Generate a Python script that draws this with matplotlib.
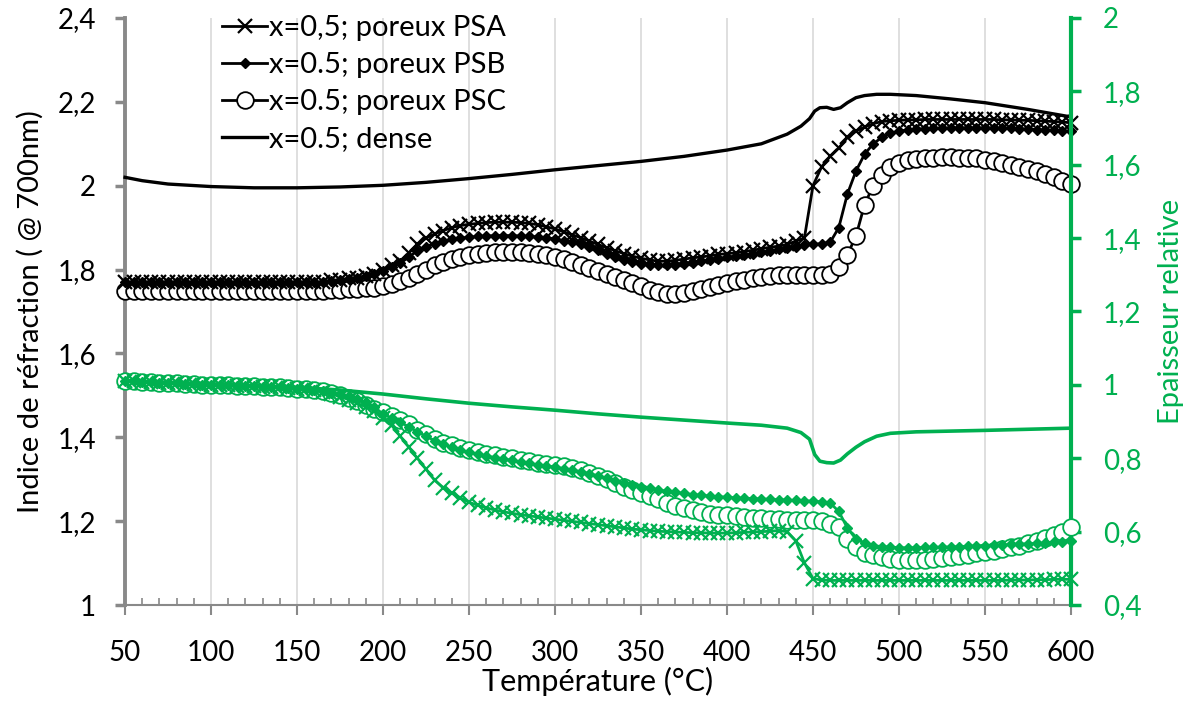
import numpy as np
import matplotlib
matplotlib.use("Agg")
import matplotlib.pyplot as plt
from matplotlib.ticker import MultipleLocator

plt.rcParams['font.family'] = ['Lato', 'DejaVu Sans']

# Temperature grid for the marker series (°C)
T = np.arange(50, 605, 5)

# Refractive index (left axis) - porous films
n_PSA = [1.77, 1.77, 1.77, 1.77, 1.77, 1.77, 1.77, 1.77, 1.77, 1.77,
         1.77, 1.77, 1.77, 1.77, 1.77, 1.77, 1.77, 1.77, 1.77, 1.77,
         1.77, 1.77, 1.77, 1.77, 1.775, 1.775, 1.78, 1.78, 1.785, 1.79,
         1.80, 1.81, 1.82, 1.84, 1.86, 1.875, 1.885, 1.893, 1.90, 1.905,
         1.908, 1.91, 1.912, 1.913, 1.913, 1.913, 1.912, 1.91, 1.907, 1.902,
         1.897, 1.89, 1.883, 1.876, 1.868, 1.86, 1.852, 1.845, 1.838, 1.832,
         1.827, 1.823, 1.82, 1.82, 1.822, 1.825, 1.828, 1.83, 1.833, 1.836,
         1.838, 1.84, 1.843, 1.846, 1.85, 1.853, 1.856, 1.86, 1.868, 1.875,
         2.00, 2.045, 2.07, 2.09, 2.115, 2.13, 2.14, 2.148, 2.153, 2.155,
         2.156, 2.157, 2.157, 2.158, 2.158, 2.158, 2.158, 2.158, 2.158, 2.158,
         2.158, 2.158, 2.157, 2.157, 2.156, 2.156, 2.155, 2.154, 2.153, 2.152, 2.15]
n_PSB = [1.77, 1.77, 1.77, 1.77, 1.77, 1.77, 1.77, 1.77, 1.77, 1.77,
         1.77, 1.77, 1.77, 1.77, 1.77, 1.77, 1.77, 1.77, 1.77, 1.77,
         1.77, 1.77, 1.77, 1.77, 1.772, 1.775, 1.778, 1.78, 1.785, 1.79,
         1.797, 1.805, 1.815, 1.83, 1.845, 1.855, 1.862, 1.868, 1.872, 1.875,
         1.877, 1.879, 1.88, 1.881, 1.881, 1.881, 1.88, 1.879, 1.878, 1.876,
         1.873, 1.869, 1.865, 1.86, 1.853, 1.846, 1.838, 1.83, 1.823, 1.818,
         1.814, 1.811, 1.81, 1.81, 1.811, 1.813, 1.816, 1.82, 1.823, 1.826,
         1.829, 1.832, 1.835, 1.838, 1.841, 1.844, 1.848, 1.852, 1.855, 1.858,
         1.86, 1.862, 1.865, 1.90, 1.98, 2.035, 2.075, 2.10, 2.115, 2.125,
         2.13, 2.133, 2.135, 2.136, 2.137, 2.137, 2.138, 2.138, 2.138, 2.138,
         2.138, 2.138, 2.137, 2.137, 2.136, 2.135, 2.134, 2.133, 2.132, 2.131, 2.13]
n_PSC = [1.75, 1.75, 1.75, 1.75, 1.75, 1.75, 1.75, 1.75, 1.75, 1.75,
         1.75, 1.75, 1.75, 1.75, 1.75, 1.75, 1.75, 1.75, 1.75, 1.75,
         1.75, 1.75, 1.75, 1.75, 1.751, 1.752, 1.753, 1.754, 1.755, 1.757,
         1.76, 1.765, 1.772, 1.78, 1.79, 1.80, 1.81, 1.818, 1.825, 1.83,
         1.835, 1.838, 1.84, 1.842, 1.842, 1.842, 1.841, 1.84, 1.838, 1.835,
         1.83, 1.825, 1.818, 1.81, 1.803, 1.796, 1.79, 1.782, 1.775, 1.768,
         1.76, 1.752, 1.746, 1.742, 1.741, 1.744, 1.749, 1.754, 1.759, 1.764,
         1.768, 1.772, 1.776, 1.779, 1.782, 1.784, 1.786, 1.787, 1.788, 1.788,
         1.788, 1.787, 1.79, 1.805, 1.835, 1.88, 1.955, 2.00, 2.025, 2.045,
         2.055, 2.061, 2.064, 2.066, 2.067, 2.068, 2.068, 2.067, 2.066, 2.065,
         2.062, 2.058, 2.054, 2.05, 2.045, 2.04, 2.035, 2.028, 2.02, 2.012, 2.003]

# Dense film (line only)
T_dense = [50, 60, 75, 100, 125, 150, 175, 200, 225, 250, 275, 300, 325, 350, 375,
           400, 420, 435, 443, 448, 451, 454, 458, 462, 466, 470, 475, 480, 487, 495,
           510, 530, 550, 575, 600]
n_dense = [2.02, 2.012, 2.004, 1.998, 1.995, 1.995, 1.997, 2.001, 2.008, 2.017,
           2.027, 2.038, 2.048, 2.058, 2.07, 2.085, 2.10, 2.123, 2.142, 2.16,
           2.178, 2.186, 2.187, 2.182, 2.186, 2.198, 2.21, 2.215, 2.218, 2.218,
           2.215, 2.207, 2.198, 2.182, 2.164]
e_dense = [1.012, 1.01, 1.007, 1.003, 0.998, 0.993, 0.986, 0.975, 0.962, 0.95,
           0.94, 0.931, 0.921, 0.912, 0.904, 0.896, 0.89, 0.882, 0.87, 0.852,
           0.81, 0.792, 0.788, 0.787, 0.795, 0.812, 0.83, 0.845, 0.86, 0.868,
           0.872, 0.874, 0.876, 0.879, 0.882]

# Relative thickness (right axis)
e_PSA = [1.01, 1.01, 1.008, 1.007, 1.006, 1.005, 1.004, 1.003, 1.002, 1.001,
         1.0, 1.0, 0.999, 0.998, 0.997, 0.996, 0.995, 0.994, 0.993, 0.992,
         0.99, 0.988, 0.985, 0.98, 0.975, 0.968, 0.96, 0.95, 0.94, 0.93,
         0.91, 0.89, 0.86, 0.83, 0.80, 0.77, 0.74, 0.72, 0.705, 0.692,
         0.68, 0.672, 0.665, 0.659, 0.654, 0.65, 0.646, 0.643, 0.64, 0.637,
         0.634, 0.631, 0.628, 0.625, 0.622, 0.619, 0.616, 0.613, 0.61, 0.607,
         0.605, 0.603, 0.601, 0.6, 0.599, 0.598, 0.597, 0.597, 0.596, 0.596,
         0.596, 0.597, 0.598, 0.599, 0.6, 0.601, 0.603, 0.6, 0.575, 0.515,
         0.472, 0.468, 0.467, 0.467, 0.467, 0.467, 0.467, 0.467, 0.467, 0.467,
         0.467, 0.467, 0.467, 0.467, 0.467, 0.467, 0.467, 0.467, 0.467, 0.467,
         0.467, 0.467, 0.467, 0.468, 0.468, 0.468, 0.469, 0.469, 0.47, 0.47, 0.47]
e_PSB = [1.01, 1.01, 1.008, 1.007, 1.006, 1.005, 1.004, 1.003, 1.002, 1.001,
         1.0, 1.0, 0.999, 0.998, 0.997, 0.996, 0.995, 0.994, 0.993, 0.992,
         0.99, 0.988, 0.985, 0.982, 0.978, 0.974, 0.97, 0.962, 0.952, 0.94,
         0.92, 0.91, 0.898, 0.886, 0.872, 0.86, 0.848, 0.838, 0.83, 0.822,
         0.816, 0.811, 0.806, 0.802, 0.798, 0.794, 0.79, 0.786, 0.782, 0.779,
         0.776, 0.772, 0.768, 0.763, 0.758, 0.752, 0.745, 0.738, 0.732, 0.727,
         0.722, 0.718, 0.714, 0.71, 0.707, 0.704, 0.701, 0.699, 0.697, 0.695,
         0.694, 0.692, 0.691, 0.69, 0.689, 0.688, 0.687, 0.686, 0.685, 0.684,
         0.683, 0.681, 0.678, 0.655, 0.61, 0.58, 0.568, 0.562, 0.559, 0.558,
         0.556, 0.556, 0.556, 0.557, 0.557, 0.558, 0.558, 0.559, 0.56, 0.561,
         0.562, 0.563, 0.564, 0.565, 0.566, 0.567, 0.568, 0.569, 0.571, 0.573, 0.575]
e_PSC = [1.01, 1.01, 1.008, 1.007, 1.006, 1.005, 1.004, 1.003, 1.002, 1.001,
         1.0, 1.0, 0.999, 0.998, 0.997, 0.996, 0.995, 0.994, 0.993, 0.992,
         0.99, 0.988, 0.985, 0.982, 0.978, 0.972, 0.965, 0.956, 0.946, 0.935,
         0.925, 0.915, 0.904, 0.892, 0.878, 0.865, 0.853, 0.842, 0.835, 0.828,
         0.822, 0.817, 0.812, 0.808, 0.804, 0.8, 0.796, 0.792, 0.788, 0.785,
         0.782, 0.778, 0.773, 0.767, 0.76, 0.752, 0.743, 0.733, 0.723, 0.714,
         0.705, 0.697, 0.688, 0.679, 0.671, 0.664, 0.658, 0.653, 0.649, 0.646,
         0.645, 0.642, 0.64, 0.638, 0.637, 0.635, 0.634, 0.633, 0.632, 0.632,
         0.632, 0.628, 0.622, 0.612, 0.58, 0.558, 0.542, 0.535, 0.53, 0.526,
         0.523, 0.522, 0.522, 0.523, 0.525, 0.527, 0.53, 0.533, 0.537, 0.541,
         0.545, 0.548, 0.552, 0.557, 0.562, 0.568, 0.575, 0.582, 0.59, 0.6, 0.613]

labels = ["x=0,5; poreux PSA", "x=0.5; poreux PSB", "x=0.5; poreux PSC", "x=0.5; dense"]

GREEN = "#00B050"
GRAY = "#898989"

fig = plt.figure(figsize=(11.99, 7.03), dpi=100)
ax1 = fig.add_axes([0.1043, 0.1394, 0.7889, 0.835])
ax2 = ax1.twinx()

lw = 2.0
h1, = ax1.plot(T, n_PSA, color='black', lw=lw, marker='x', ms=10, mew=1.6, clip_on=False, zorder=4)
h2, = ax1.plot(T, n_PSB, color='black', lw=lw, marker='D', ms=5.5, clip_on=False, zorder=4)
h3, = ax1.plot(T, n_PSC, color='black', lw=lw, marker='o', ms=12, mfc='white', mec='black', mew=1.3, clip_on=False, zorder=3)
h4, = ax1.plot(T_dense, n_dense, color='black', lw=2.4, clip_on=False, zorder=5)

ax2.plot(T, e_PSA, color=GREEN, lw=lw, marker='x', ms=10, mew=1.6, clip_on=False, zorder=4)
ax2.plot(T, e_PSB, color=GREEN, lw=lw, marker='D', ms=5.5, clip_on=False, zorder=4)
ax2.plot(T, e_PSC, color=GREEN, lw=lw, marker='o', ms=12, mfc='white', mec=GREEN, mew=1.3, clip_on=False, zorder=3)
ax2.plot(T_dense, e_dense, color=GREEN, lw=2.6, clip_on=False, zorder=5)

ax1.set_xlim(50, 600)
ax1.set_ylim(1, 2.4)
ax2.set_ylim(0.4, 2.0)

ax1.xaxis.set_major_locator(MultipleLocator(50))
ax1.xaxis.set_minor_locator(MultipleLocator(10))
ax1.yaxis.set_major_locator(MultipleLocator(0.2))
ax2.yaxis.set_major_locator(MultipleLocator(0.2))

def comma(v, p):
    s = f"{v:.1f}".rstrip('0').rstrip('.')
    return s.replace('.', ',')

ax1.yaxis.set_major_formatter(plt.FuncFormatter(comma))
ax2.yaxis.set_major_formatter(plt.FuncFormatter(comma))

ax1.grid(axis='x', which='major', color='#d9d9d9', lw=1.2)
ax1.set_axisbelow(True)

for ax in (ax1, ax2):
    ax.spines['top'].set_visible(False)
ax1.spines['right'].set_visible(False)
ax1.spines['left'].set_color(GRAY)
ax1.spines['left'].set_linewidth(2.8)
ax1.spines['bottom'].set_color(GRAY)
ax1.spines['bottom'].set_linewidth(1.5)
ax2.spines['left'].set_visible(False)
ax2.spines['bottom'].set_visible(False)
ax2.spines['right'].set_color(GREEN)
ax2.spines['right'].set_linewidth(3)

ax1.tick_params(axis='x', which='major', direction='out', length=7, width=1.5, color=GRAY,
                labelsize=20, pad=18, labelcolor='black')
ax1.tick_params(axis='x', which='minor', direction='in', length=5, width=1.2, color=GRAY)
ax1.tick_params(axis='y', which='major', direction='out', length=7, width=2.5, color=GRAY,
                labelsize=20, pad=14, labelcolor='black')
ax2.tick_params(axis='y', which='major', direction='out', length=7, width=2.5, color=GREEN,
                labelsize=20, pad=16, labelcolor=GREEN)

ax1.set_xlabel("Température (°C)", fontsize=22, labelpad=1)
ax1.set_ylabel("Indice de réfraction ( @ 700nm)", fontsize=21, labelpad=10)
ax2.set_ylabel("Epaisseur relative", fontsize=21, color=GREEN, labelpad=12)

leg = ax1.legend([h1, h2, h3, h4], labels, loc='upper left', bbox_to_anchor=(0.1024, 1.005),
                 frameon=False, fontsize=21, handlelength=1.55, handletextpad=0.05,
                 labelspacing=0.38, borderaxespad=0, borderpad=0)
leg.set_zorder(10)

fig.savefig("out.png", dpi=100)
